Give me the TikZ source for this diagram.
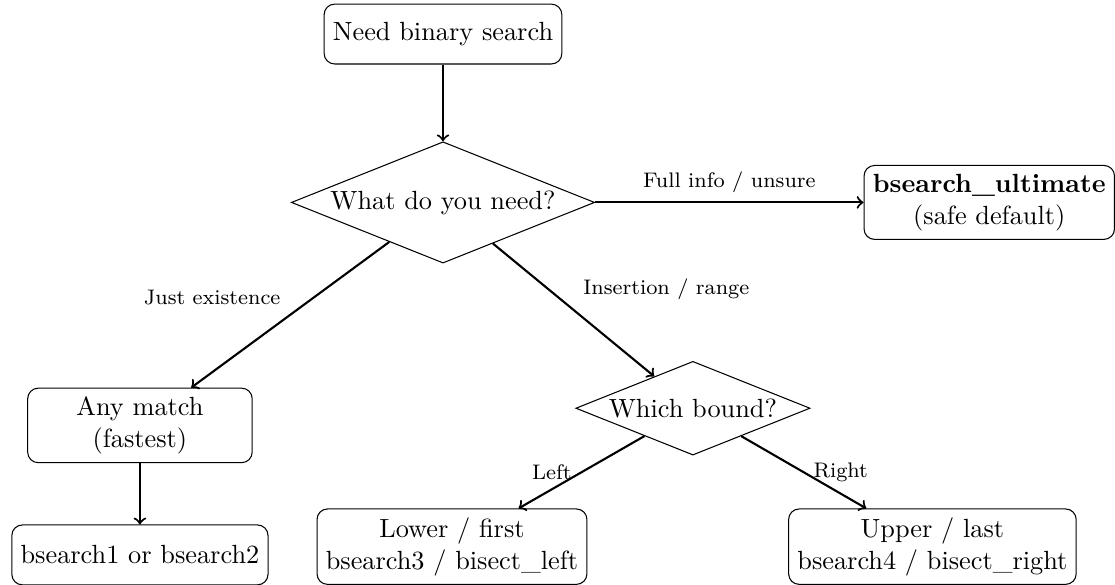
\documentclass[tikz,border=0pt]{standalone}
\usepackage{tikz}
\usetikzlibrary{positioning}
\usetikzlibrary{arrows,shapes}

\begin{document}
\begin{tikzpicture}[on grid,
    box/.style={draw,rectangle,rounded corners,align=center,minimum width=3cm,minimum height=0.8cm},
    choice/.style={draw,diamond,aspect=2.5,inner sep=1pt,align=center},
    lbl/.style={font=\footnotesize},
    arr/.style={->,thick}]
	\useasboundingbox (-5.92,-7.36) rectangle (8.98,0.455);
	\node[box] (need) {Need binary search};
	\node[choice] (what) [below=2.25cm of need] {What do you need?};
	\node[box] (ult) [right=7.3cm of what] {\textbf{bsearch\_ultimate}\\(safe default)};
	\node[box] (any) [below left=2.98cm and 4.05cm of what] {Any match\\(fastest)};
	\node[choice] (which) [below right=2.75cm and 3.34cm of what] {Which bound?};
	\node[box] (bs12) [below=1.73cm of any] {bsearch1 or bsearch2};
	\node[box] (lower) [below left=1.85cm and 3.22cm of which] {Lower / first\\bsearch3 / bisect\_left};
	\node[box] (upper) [below right=1.85cm and 3.2cm of which] {Upper / last\\bsearch4 / bisect\_right};
    \path[arr]
        (need) edge (what)
        (what) edge node[above,lbl] {Full info / unsure} (ult)
        (what) edge node[above left,lbl] {Just existence} (any)
        (what) edge node[above right,lbl] {Insertion / range} (which)
        (any) edge (bs12)
        (which) edge node[left,lbl] {Left} (lower)
        (which) edge node[right,lbl] {Right} (upper);
\end{tikzpicture}
\end{document}
